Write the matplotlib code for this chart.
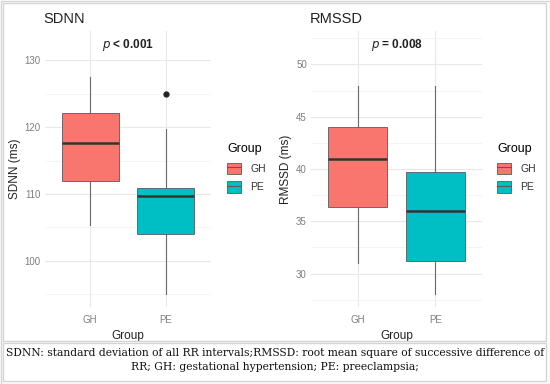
import matplotlib as mpl
mpl.use('Agg')
import matplotlib.pyplot as plt
from matplotlib.patches import Patch, Rectangle
from matplotlib.lines import Line2D
from matplotlib.legend_handler import HandlerTuple

plt.rcParams['font.family'] = ['Liberation Sans', 'DejaVu Sans']

# data
groups = ['GH', 'PE']
colors = ['#F8766D', '#00BFC4']

sdnn_whislo = [105.3, 95.0]
sdnn_q1 = [112.0, 104.0]
sdnn_med = [117.7, 109.7]
sdnn_q3 = [122.2, 110.9]
sdnn_whishi = [127.5, 119.7]
sdnn_fliers = [[], [125.0]]
sdnn_p = 'p < 0.001'

rmssd_whislo = [31.0, 28.0]
rmssd_q1 = [36.4, 31.2]
rmssd_med = [41.0, 36.0]
rmssd_q3 = [44.0, 39.7]
rmssd_whishi = [47.9, 47.9]
rmssd_fliers = [[], []]
rmssd_p = 'p = 0.008'

caption = ('SDNN: standard deviation of all RR intervals;RMSSD: root mean square of successive difference of\n'
           'RR; GH: gestational hypertension; PE: preeclampsia;')

W, H = 550, 384
fig = plt.figure(figsize=(W/100, H/100), dpi=100)


def px(x0, y0, x1, y1):
    return [x0/W, 1 - y1/H, (x1-x0)/W, (y1-y0)/H]


def panel(rect, title, ylab, lo, q1, med, q3, hi, fliers, ptxt,
          ylim, major, minor, legx):
    ax = fig.add_axes(px(*rect))
    stats = []
    for i in range(len(groups)):
        stats.append(dict(whislo=lo[i], q1=q1[i], med=med[i], q3=q3[i],
                          whishi=hi[i], fliers=fliers[i]))
    bp = ax.bxp(stats, positions=[1, 2], widths=0.75, patch_artist=True,
                showcaps=False,
                boxprops=dict(edgecolor='#5a5a5a', linewidth=0.6),
                medianprops=dict(color='#333333', linewidth=1.8),
                whiskerprops=dict(color='#6a6a6a', linewidth=0.8),
                flierprops=dict(marker='o', markerfacecolor='#222222',
                                markeredgecolor='#222222', markersize=3.5))
    for b, c in zip(bp['boxes'], colors):
        b.set_facecolor(c)
    for z in bp['whiskers']:
        z.set_zorder(1)
    ax.set_xlim(0.4, 2.6)
    ax.set_ylim(*ylim)
    ax.set_yticks(major)
    ax.set_yticks(minor, minor=True)
    ax.set_xticks([1, 2])
    ax.set_xticklabels(groups)
    ax.grid(True, which='major', color='#e8e8e8', linewidth=0.8)
    ax.grid(True, which='minor', axis='y', color='#f3f3f3', linewidth=0.6)
    ax.set_axisbelow(True)
    for s in ax.spines.values():
        s.set_visible(False)
    ax.tick_params(length=0, labelsize=7, colors='#7f7f7f', pad=3)
    ax.tick_params(axis='x', pad=6)
    ax.tick_params(which='minor', length=0)
    ax.set_ylabel(ylab, fontsize=8.5, color='#222222', labelpad=3)
    ax.set_xlabel('Group', fontsize=8.5, color='#222222', labelpad=3)
    ax.set_title(title, loc='left', fontsize=10.5, color='#222222', pad=6,
                 x=-0.01)
    pv = ptxt.split(' ', 1)
    ax.text(1.5, ylim[1] - (ylim[1]-ylim[0])*0.05, r'$\it{' + pv[0] + '}$ ' + pv[1],
            ha='center', va='center', fontsize=8.5, fontweight='semibold',
            color='#222222')
    handles = [(Patch(facecolor=c, edgecolor='#5a5a5a', linewidth=0.6),
                Line2D([], [], color='#5a5a5a', linewidth=0.8))
               for c in colors]
    leg = fig.legend(handles, groups, title='Group', loc='upper left',
                     bbox_to_anchor=(legx/W, 1 - 134/H), frameon=False,
                     fontsize=7.5, title_fontsize=9, handlelength=1.3,
                     handleheight=1.3, handletextpad=0.9, labelspacing=0.7,
                     handler_map={tuple: HandlerTuple(ndivide=1, pad=0)})
    leg._legend_box.align = 'left'
    for t in leg.get_texts():
        t.set_color('#333333')
    return ax


panel((45, 31, 211, 307), 'SDNN', 'SDNN (ms)', sdnn_whislo, sdnn_q1, sdnn_med,
      sdnn_q3, sdnn_whishi, sdnn_fliers, sdnn_p, (93.1, 134.4),
      [100, 110, 120, 130], [95, 105, 115, 125], 218)
panel((311, 31, 482, 307), 'RMSSD', 'RMSSD (ms)', rmssd_whislo, rmssd_q1,
      rmssd_med, rmssd_q3, rmssd_whishi, rmssd_fliers, rmssd_p, (26.8, 53.2),
      [30, 35, 40, 45, 50], [27.5, 32.5, 37.5, 42.5, 47.5, 52.5], 488)

# frames
fig.add_artist(Rectangle((0.5/W, 0.5/H), 549/W, 383/H, transform=fig.transFigure,
                         fill=False, edgecolor='#d4d4d4', linewidth=1))
fig.add_artist(Rectangle((3/W, 1 - 341/H), 543/W, 338/H, transform=fig.transFigure,
                         fill=False, edgecolor='#d4d4d4', linewidth=1))
fig.add_artist(Rectangle((3/W, 3/H), 543/W, 38/H, transform=fig.transFigure,
                         fill=False, edgecolor='#d4d4d4', linewidth=1))

fig.text(0.5, 1 - 360/H, caption, ha='center', va='center', fontsize=7.75,
         family='DejaVu Serif', color='#111111', linespacing=1.55)

fig.savefig('out.png', dpi=100, facecolor='white')
